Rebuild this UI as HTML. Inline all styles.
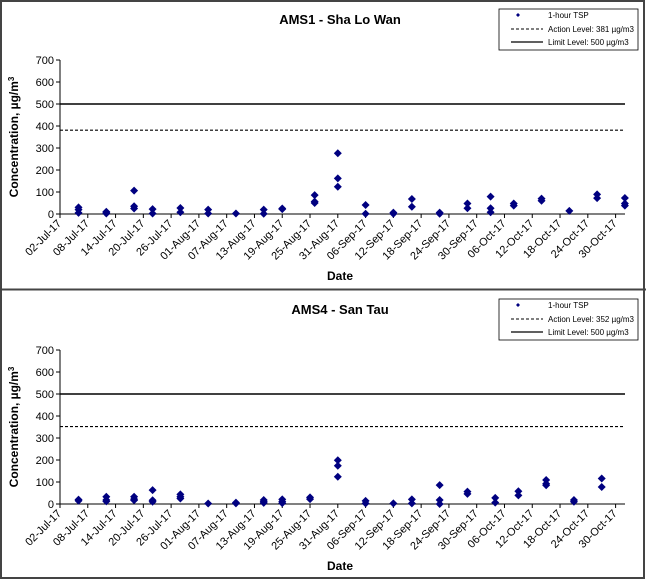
<!DOCTYPE html>
<html><head><meta charset="utf-8"><style>
body{margin:0;background:#fff;}
svg{display:block;font-family:"Liberation Sans",Arial,sans-serif;}
</style></head><body>
<svg id="c" width="646" height="579"></svg>
<script>
const NS="http://www.w3.org/2000/svg";
const tickLabels=["02-Jul-17","08-Jul-17","14-Jul-17","20-Jul-17","26-Jul-17","01-Aug-17","07-Aug-17","13-Aug-17","19-Aug-17","25-Aug-17","31-Aug-17","06-Sep-17","12-Sep-17","18-Sep-17","24-Sep-17","30-Sep-17","06-Oct-17","12-Oct-17","18-Oct-17","24-Oct-17","30-Oct-17"];
const yTicks=[0,100,200,300,400,500,600,700];
// days since 02-Jul-17
const ams1Days=[4,4,4,10,10,10,16,16,16,20,20,26,26,32,32,38,44,44,48,48,55,55,55,60,60,60,66,66,72,72,76,76,82,82,88,88,93,93,93,98,98,104,104,110,116,116,122,122,122];
const ams1Vals=[30,20,5,10,5,2,106,35,25,22,2,27,8,20,2,2,20,1,25,22,86,56,50,276,162,124,41,1,6,1,68,33,6,1,48,26,79,26,8,48,38,70,60,14,89,72,73,48,38];
const ams4Days=[4,4,10,10,10,16,16,16,20,20,20,26,26,26,32,38,38,44,44,44,48,48,48,54,54,60,60,60,66,66,72,76,76,82,82,82,88,88,94,94,99,99,105,105,105,111,111,117,117];
const ams4Vals=[20,15,33,18,12,33,22,17,63,17,10,44,33,25,2,6,3,18,11,5,21,11,4,30,22,199,174,124,14,3,3,21,3,86,18,0,56,46,28,6,58,39,109,92,85,18,10,116,77];
const svg=document.getElementById('c');
function el(t,a,p,txt){const e=document.createElementNS(NS,t);for(const k in a)e.setAttribute(k,a[k]);if(txt!==undefined)e.textContent=txt;(p||svg).appendChild(e);return e;}
function chart(g,top,title,days,vals,action,actionLabel){
  const x0=60,x1=625,y0=top+214,ppu=0.22,ppd=4.63;
  const X=d=>x0+d*ppd, Y=v=>y0-v*ppu;
  let t=el('text',{x:340,y:top+24,'text-anchor':'middle','font-size':13,'font-weight':'bold'},g,title);
  
  el('line',{x1:x0,y1:Y(700),x2:x0,y2:y0,stroke:'#000','stroke-width':1},g);
  el('line',{x1:x0,y1:y0,x2:x1,y2:y0,stroke:'#000','stroke-width':1},g);
  yTicks.forEach(v=>{
    el('line',{x1:x0-4,y1:Y(v),x2:x0,y2:Y(v),stroke:'#000'},g);
    const l=el('text',{x:x0-6,y:Y(v)+4,'text-anchor':'end','font-size':11},g,String(v));
    
  });
  tickLabels.forEach((s,i)=>{
    const x=X(i*6);
    el('line',{x1:x,y1:y0,x2:x,y2:y0+4,stroke:'#000'},g);
    const l=el('text',{x:x+2,y:y0+10,'text-anchor':'end','font-size':11,transform:`rotate(-45 ${x+2} ${y0+10})`},g,s);
    
  });
  const yt=el('text',{x:18,y:top+137,'text-anchor':'middle','font-size':12,'font-weight':'bold',transform:`rotate(-90 18 ${top+137})`},g);
  
  yt.textContent='Concentration, µg/m';
  el('tspan',{'baseline-shift':'super','font-size':8},yt,'3');
  const xt=el('text',{x:340,y:top+280,'text-anchor':'middle','font-size':12,'font-weight':'bold'},g,'Date');
  
  const lim=el('line',{x1:x0,y1:Y(500),x2:x1,y2:Y(500),stroke:'#000','stroke-width':1.5},g);
  
  const act=el('line',{x1:x0,y1:Y(action),x2:x1,y2:Y(action),stroke:'#000','stroke-width':1.2,'stroke-dasharray':'3,2'},g);
  
  days.forEach((d,i)=>{
    const x=X(d),y=Y(vals[i]);
    const p=el('polygon',{points:`${x},${y-4} ${x+4},${y} ${x},${y+4} ${x-4},${y}`,fill:'#000080'},g);
    
  });
  const lg=el('g',{},g);
  
  el('rect',{x:499,y:top+9,width:139,height:41,fill:'#fff',stroke:'#000','stroke-width':0.8},lg);
  el('polygon',{points:`518,${top+13} 520,${top+15} 518,${top+17} 516,${top+15}`,fill:'#000080'},lg);
  el('text',{x:548,y:top+18,'font-size':8},lg,'1-hour TSP');
  el('line',{x1:511,y1:top+29,x2:543,y2:top+29,stroke:'#000','stroke-dasharray':'3,2'},lg);
  el('text',{x:548,y:top+32,'font-size':8},lg,actionLabel);
  el('line',{x1:511,y1:top+42,x2:543,y2:top+42,stroke:'#000','stroke-width':1.2},lg);
  el('text',{x:548,y:top+45,'font-size':8},lg,'Limit Level: 500 µg/m3');
}
const g1=el('g',{});
const g2=el('g',{});
chart(g1,0,'AMS1 - Sha Lo Wan',ams1Days,ams1Vals,381,'Action Level: 381 µg/m3');
chart(g2,290,'AMS4 - San Tau',ams4Days,ams4Vals,352,'Action Level: 352 µg/m3');
el('rect',{x:1,y:1,width:643,height:577,fill:'none',stroke:'#444','stroke-width':2});
el('line',{x1:0,y1:289.5,x2:646,y2:289.5,stroke:'#444','stroke-width':2});
</script>
</body></html>
